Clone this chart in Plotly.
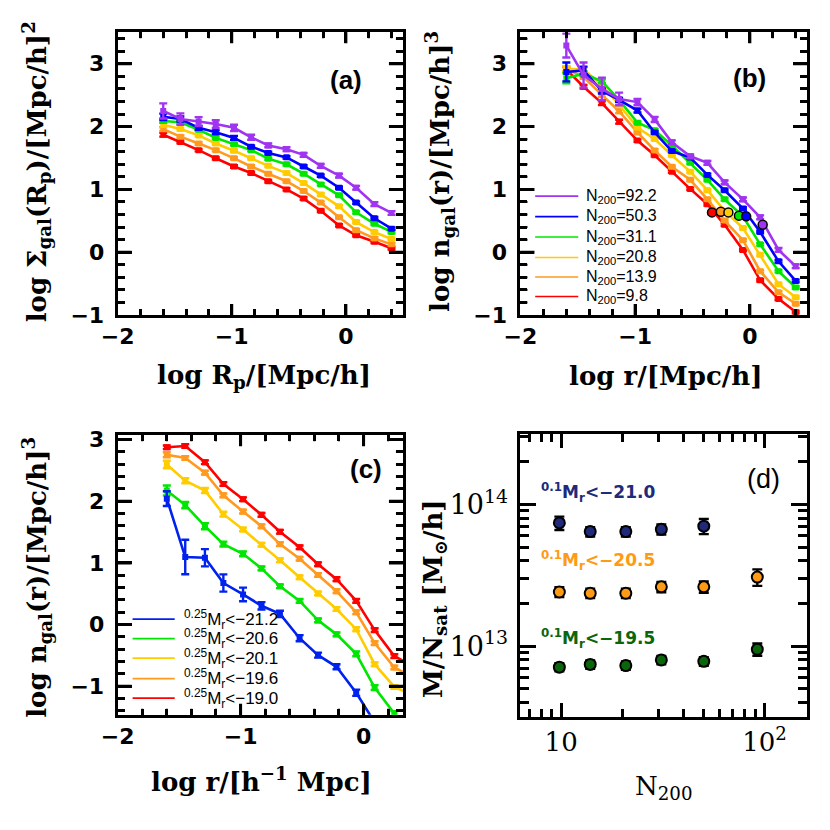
import plotly.graph_objects as go

W = H = 830

# radial bins shared by panels (a), (b), (c)  [log Mpc/h]
R_BINS = [-1.6, -1.45, -1.29, -1.14, -0.98, -0.83, -0.68, -0.52, -0.37, -0.22, -0.06, 0.09, 0.25, 0.4]

N200 = [9.8, 13.9, 20.8, 31.1, 50.3, 92.2]
COLORS_N = ["#ff0000", "#ff9a1f", "#ffcc00", "#00e600", "#0000ff", "#a034f0"]

# panel (a): projected profiles, one per richness bin (N200 order)
SIG_N9 = [1.87, 1.755, 1.625, 1.495, 1.365, 1.26, 1.13, 1.0, 0.854, 0.66, 0.427, 0.27, 0.167, 0.063]
SIG_N14 = [1.96, 1.84, 1.73, 1.625, 1.495, 1.365, 1.25, 1.13, 0.974, 0.79, 0.557, 0.35, 0.22, 0.125]
SIG_N21 = [2.03, 1.96, 1.86, 1.73, 1.615, 1.495, 1.375, 1.26, 1.10, 0.92, 0.73, 0.48, 0.32, 0.21]
SIG_N31 = [2.09, 2.07, 1.95, 1.82, 1.72, 1.625, 1.49, 1.40, 1.25, 1.08, 0.906, 0.635, 0.453, 0.323]
SIG_N50 = [2.156, 2.12, 1.98, 1.91, 1.82, 1.68, 1.58, 1.51, 1.365, 1.22, 1.026, 0.79, 0.54, 0.375]
SIG_N92 = [2.25, 2.12, 2.08, 2.04, 1.98, 1.83, 1.70, 1.64, 1.55, 1.375, 1.22, 1.026, 0.766, 0.625]
SIG_ERR_SMALL = [0.03, 0.02, 0.02, 0.02, 0.02, 0.02, 0.02, 0.02, 0.02, 0.02, 0.02, 0.02, 0.02, 0.02]
SIG_ERR_N50 = [0.05, 0.04, 0.03, 0.03, 0.03, 0.02, 0.02, 0.02, 0.02, 0.02, 0.02, 0.02, 0.02, 0.02]
SIG_ERR_N92 = [0.12, 0.09, 0.07, 0.06, 0.05, 0.04, 0.03, 0.03, 0.03, 0.03, 0.03, 0.03, 0.03, 0.03]

# panel (b): 3D profiles
DEN_N9 = [2.909, 2.634, 2.374, 2.078, 1.777, 1.543, 1.283, 1.008, 0.764, 0.436, 0.036, -0.447, -0.743, -0.951]
DEN_N14 = [2.92, 2.79, 2.504, 2.244, 1.906, 1.621, 1.361, 1.153, 0.842, 0.504, 0.192, -0.301, -0.639, -0.821]
DEN_N21 = [2.92, 2.909, 2.66, 2.348, 1.984, 1.803, 1.543, 1.283, 0.987, 0.66, 0.384, -0.042, -0.509, -0.717]
DEN_N31 = [2.77, 2.842, 2.722, 2.426, 2.062, 1.943, 1.699, 1.423, 1.153, 0.842, 0.571, 0.125, -0.301, -0.561]
DEN_N50 = [2.87, 2.894, 2.566, 2.426, 2.255, 1.906, 1.61, 1.506, 1.231, 0.987, 0.696, 0.322, -0.145, -0.457]
DEN_N92 = [3.29, 2.82, 2.60, 2.44, 2.39, 2.114, 1.75, 1.527, 1.423, 1.112, 0.842, 0.556, 0.036, -0.223]
DEN_ERR_SMALL = [0.04, 0.03, 0.03, 0.03, 0.02, 0.02, 0.02, 0.02, 0.02, 0.02, 0.02, 0.02, 0.02, 0.02]
DEN_ERR_N31 = [0.08, 0.04, 0.03, 0.03, 0.02, 0.02, 0.02, 0.02, 0.02, 0.02, 0.02, 0.02, 0.02, 0.02]
DEN_ERR_N50 = [0.15, 0.06, 0.04, 0.03, 0.03, 0.02, 0.02, 0.02, 0.02, 0.02, 0.02, 0.02, 0.02, 0.02]
DEN_ERR_N92 = [0.19, 0.2, 0.18, 0.1, 0.05, 0.04, 0.03, 0.03, 0.03, 0.03, 0.03, 0.03, 0.03, 0.03]
# characteristic radius markers
RC_X = [-0.33, -0.253, -0.187, -0.095, -0.032, 0.112]
RC_Y = [0.634, 0.644, 0.634, 0.582, 0.571, 0.436]

# panel (c): luminosity-threshold profiles
MAG_25 = ["−19.0", "−19.6", "−20.1", "−20.6", "−21.2"]
COLORS_M = ["#ff0000", "#ff9a1f", "#ffcc00", "#00e600", "#0022ee"]
LUM_19_0 = [2.874, 2.895, 2.632, 2.279, 2.032, 1.779, 1.505, 1.253, 0.979, 0.737, 0.384, -0.089, -0.511, -0.668]
LUM_19_6 = [2.753, 2.70, 2.463, 2.095, 1.832, 1.595, 1.305, 1.068, 0.805, 0.542, 0.20, -0.30, -0.695, -0.853]
LUM_20_1 = [2.595, 2.332, 2.174, 1.79, 1.542, 1.295, 1.042, 0.768, 0.505, 0.253, -0.074, -0.642, -1.011, -1.142]
LUM_20_6 = [2.174, 1.937, 1.595, 1.305, 1.147, 0.911, 0.621, 0.384, 0.068, -0.158, -0.474, -1.021, -1.442]
LUM_21_2 = [2.042, 1.095, 1.084, 0.674, 0.489, 0.305, 0.174, -0.221, -0.495, -0.684, -1.105, -1.584]
LUM_ERR_19_0 = [0.03, 0.03, 0.03, 0.03, 0.03, 0.03, 0.03, 0.03, 0.03, 0.03, 0.03, 0.03, 0.03, 0.03]
LUM_ERR_19_6 = [0.04, 0.03, 0.03, 0.03, 0.03, 0.03, 0.03, 0.03, 0.03, 0.03, 0.03, 0.03, 0.03, 0.03]
LUM_ERR_20_1 = [0.06, 0.04, 0.04, 0.04, 0.03, 0.03, 0.03, 0.03, 0.03, 0.03, 0.03, 0.03, 0.03, 0.03]
LUM_ERR_20_6 = [0.08, 0.05, 0.05, 0.04, 0.04, 0.03, 0.03, 0.03, 0.03, 0.03, 0.04, 0.04, 0.04]
LUM_ERR_21_2 = [0.12, 0.28, 0.14, 0.14, 0.11, 0.06, 0.05, 0.05, 0.04, 0.04, 0.05, 0.06]

# panel (d): mass per satellite
MAG_01 = ["−21.0", "−20.5", "−19.5"]
COLORS_D = ["#202a7a", "#ff9a14", "#0b660b"]
MN_21_0 = [7.41e13, 6.43e13, 6.43e13, 6.67e13, 7.03e13]
MN_20_5 = [2.41e13, 2.36e13, 2.36e13, 2.62e13, 2.62e13, 3.07e13]
MN_19_5 = [7.10e12, 7.42e12, 7.29e12, 7.98e12, 7.80e12, 9.49e12]
MN_ERR_21_0 = [0.8e13, 0.49e13, 0.49e13, 0.55e13, 0.86e13]
MN_ERR_20_5 = [0.19e13, 0.18e13, 0.18e13, 0.22e13, 0.24e13, 0.41e13]
MN_ERR_19_5 = [0.47e12, 0.5e12, 0.5e12, 0.55e12, 0.55e12, 0.95e12]

# tick positions and labels (kept inside each axis range)
LOGR_MAJOR = [-2, -1, 0]
LOGR_TEXT = ["−2", "−1", "0"]
LOGR_MINOR_AB = [-1.8, -1.6, -1.4, -1.2, -0.8, -0.6, -0.4, -0.2, 0.2, 0.4]
LOGR_MINOR_C = [-1.8, -1.6, -1.4, -1.2, -0.8, -0.6, -0.4, -0.2, 0.2]
DENS_MAJOR = [-1, 0, 1, 2, 3]
DENS_TEXT = ["−1", "0", "1", "2", "3"]
DENS_MINOR_AB = [-0.8, -0.6, -0.4, -0.2, 0.2, 0.4, 0.6, 0.8, 1.2, 1.4, 1.6, 1.8,
                 2.2, 2.4, 2.6, 2.8, 3.2, 3.4]
DENS_MINOR_C = [-1.4, -1.2, -0.8, -0.6, -0.4, -0.2, 0.2, 0.4, 0.6, 0.8, 1.2, 1.4, 1.6, 1.8,
                2.2, 2.4, 2.6, 2.8]


def px(x):
    return x / W


def py(y):
    return 1 - y / H


SANS = "DejaVu Sans"
SERIF = "DejaVu Serif"
LSANS = "Liberation Sans"

fig = go.Figure()


def profile(x, y, err, color, xa, ya):
    fig.add_trace(go.Scatter(
        x=x[:len(y)], y=y, mode="lines+markers", xaxis=xa, yaxis=ya, showlegend=False,
        line=dict(color=color, width=2.6),
        marker=dict(symbol="square", size=6, color=color),
        error_y=dict(type="data", array=err, color=color, thickness=2.4, width=4),
    ))


for vals, err, col in zip([SIG_N9, SIG_N14, SIG_N21, SIG_N31, SIG_N50, SIG_N92],
                          [SIG_ERR_SMALL] * 4 + [SIG_ERR_N50, SIG_ERR_N92], COLORS_N):
    profile(R_BINS, vals, err, col, "x", "y")

for vals, err, col in zip([DEN_N9, DEN_N14, DEN_N21, DEN_N31, DEN_N50, DEN_N92],
                          [DEN_ERR_SMALL] * 3 + [DEN_ERR_N31, DEN_ERR_N50, DEN_ERR_N92], COLORS_N):
    profile(R_BINS, vals, err, col, "x2", "y2")

fig.add_trace(go.Scatter(
    x=RC_X, y=RC_Y, mode="markers", xaxis="x2", yaxis="y2", showlegend=False,
    marker=dict(size=9, color=COLORS_N, line=dict(color="black", width=1.5)),
))

for vals, err, col in zip([LUM_19_0, LUM_19_6, LUM_20_1, LUM_20_6, LUM_21_2],
                          [LUM_ERR_19_0, LUM_ERR_19_6, LUM_ERR_20_1, LUM_ERR_20_6, LUM_ERR_21_2], COLORS_M):
    profile(R_BINS, vals, err, col, "x3", "y3")

for vals, err, col in zip([MN_21_0, MN_20_5, MN_19_5], [MN_ERR_21_0, MN_ERR_20_5, MN_ERR_19_5], COLORS_D):
    fig.add_trace(go.Scatter(
        x=N200[:len(vals)], y=vals, mode="markers", xaxis="x4", yaxis="y4", showlegend=False,
        marker=dict(size=11, color=col, line=dict(color="black", width=2)),
        error_y=dict(type="data", array=err, color="black", thickness=2.4, width=5),
    ))

tick_bold = dict(family=SANS, size=22, color="black", weight="bold")
XA = [px(102.7), px(394)]
XB = [px(514), px(806.7)]
YTOP = [py(315), py(25)]
YC = [py(725), py(438.3)]
YD = [py(727.3), py(436.7)]


def frame(**kw):
    base = dict(ticks="inside", tickwidth=3, tickcolor="black",
                showline=True, linewidth=3, linecolor="black", mirror="allticks",
                showgrid=False, zeroline=False)
    base.update(kw)
    return base


def lin_axis(domain, rng, anchor, major, labels, minor, ticklen, minorlen, standoff=0):
    ax = frame(domain=domain, type="linear", range=rng, anchor=anchor,
               tickvals=major, ticktext=labels, ticklen=ticklen, tickfont=tick_bold,
               minor=dict(tickvals=minor, ticks="inside", ticklen=minorlen, tickcolor="black"))
    if standoff:
        ax["ticklabelstandoff"] = standoff
    return ax


fig.update_layout(
    width=W, height=H, margin=dict(l=0, r=0, t=0, b=0),
    paper_bgcolor="white", plot_bgcolor="white",
    xaxis=lin_axis(XA, [-2, 0.5], "y", LOGR_MAJOR, LOGR_TEXT, LOGR_MINOR_AB, 11, 6),
    yaxis=lin_axis(YTOP, [-1, 3.5], "x", DENS_MAJOR, DENS_TEXT, DENS_MINOR_AB, 14, 7, 6),
    xaxis2=lin_axis(XB, [-2, 0.5], "y2", LOGR_MAJOR, LOGR_TEXT, LOGR_MINOR_AB, 11, 6),
    yaxis2=lin_axis(YTOP, [-1, 3.5], "x2", DENS_MAJOR, DENS_TEXT, DENS_MINOR_AB, 14, 7, 6),
    xaxis3=lin_axis(XA, [-2, 0.32], "y3", LOGR_MAJOR, LOGR_TEXT, LOGR_MINOR_C, 11, 6),
    yaxis3=lin_axis(YC, [-1.46, 3.07], "x3", DENS_MAJOR, DENS_TEXT, DENS_MINOR_C, 14, 7, 6),
    xaxis4=frame(
        domain=XB, type="log", range=[0.8, 2.21], anchor="y4",
        tickvals=[10, 100], ticktext=["10", "10<sup>2</sup>"], ticklen=14,
        tickfont=dict(family=SERIF, size=26, color="black"),
        minor=dict(tickvals=[7, 8, 9, 20, 30, 40, 50, 60, 70, 80, 90], ticks="inside", ticklen=8,
                   tickcolor="black"),
    ),
    yaxis4=frame(
        domain=YD, type="log", range=[12.5, 14.5], anchor="x4",
        tickvals=[1e13, 1e14], ticktext=["10<sup>13</sup>", "10<sup>14</sup>"], ticklen=16,
        tickfont=dict(family=SERIF, size=27, color="black"), ticklabelstandoff=4,
        minor=dict(tickvals=[4e12, 5e12, 6e12, 7e12, 8e12, 9e12, 2e13, 3e13, 4e13, 5e13,
                             6e13, 7e13, 8e13, 9e13, 2e14, 3e14],
                   ticks="inside", ticklen=9, tickcolor="black"),
    ),
)

shapes = []


def tick_marks(xa, ya, xvals, yvals, xlen, ylen, width):
    # inward tick marks on all four sides, placed through each axis' own scale
    for v in xvals:
        for anchor, sign in ((0, 1), (1, -1)):
            shapes.append(dict(type="line", xref=xa, yref=ya + " domain", x0=v, x1=v,
                               ysizemode="pixel", yanchor=anchor, y0=0, y1=sign * xlen,
                               line=dict(color="black", width=width), layer="above"))
    for v in yvals:
        for anchor, sign in ((0, 1), (1, -1)):
            shapes.append(dict(type="line", xref=xa + " domain", yref=ya, y0=v, y1=v,
                               xsizemode="pixel", xanchor=anchor, x0=0, x1=sign * ylen,
                               line=dict(color="black", width=width), layer="above"))


for xa, ya, xminor, yminor in (("x", "y", LOGR_MINOR_AB, DENS_MINOR_AB),
                               ("x2", "y2", LOGR_MINOR_AB, DENS_MINOR_AB),
                               ("x3", "y3", LOGR_MINOR_C, DENS_MINOR_C)):
    tick_marks(xa, ya, LOGR_MAJOR[1:], DENS_MAJOR[1:] if ya != "y3" else DENS_MAJOR, 11, 14, 3)
    tick_marks(xa, ya, xminor, yminor, 6, 7, 2)

title_font = dict(family=SERIF, size=26, color="black", weight="bold")
ann = []


def text(x, y, s, font, angle=0, xanchor="center"):
    ann.append(dict(x=px(x), y=py(y), xref="paper", yref="paper", text=s, showarrow=False,
                    font=font, textangle=angle, xanchor=xanchor, yanchor="middle"))


# axis titles
text(20, 168, "log Σ<sub>gal</sub>(R<sub>p</sub>)/[Mpc/h]<sup>2</sup>", title_font, -90)
text(252, 378, "log R<sub>p</sub>/[Mpc/h]", title_font)
text(432, 168, "log n<sub>gal</sub>(r)/[Mpc/h]<sup>3</sup>", title_font, -90)
text(662, 378, "log r/[Mpc/h]", title_font)
text(20, 584, "log n<sub>gal</sub>(r)/[Mpc/h]<sup>3</sup>", title_font, -90)
text(250, 792, "log r/[h<sup>−1</sup> Mpc]", title_font)
text(426, 606, "M/N<sub>sat</sub> [M<sub>⊙</sub>/h]", title_font, -90)
text(660, 800, "N<sub>200</sub>", dict(family=SERIF, size=26, color="black"))

# panel tags
tag_font = dict(family=LSANS, size=26, color="black", weight="bold")
text(336, 74, "(a)", tag_font)
text(748, 72, "(b)", tag_font)
text(356, 473, "(c)", tag_font)
text(762, 483, "(d)", dict(family=LSANS, size=27, color="black"))

# legend for (b)
leg_font = dict(family=LSANS, size=16, color="black")
rows_b = [193, 214, 235, 256, 276, 296]
for i, (n, col) in enumerate(zip(reversed(N200), reversed(COLORS_N))):
    shapes.append(dict(type="line", xref="paper", yref="paper", x0=px(529), x1=px(573),
                       y0=py(rows_b[i]), y1=py(rows_b[i]), line=dict(color=col, width=1.6)))
    text(579, rows_b[i], f"N<sub>200</sub>={n}", leg_font, xanchor="left")

# legend for (c)
rows_c = [627, 647, 667, 688, 708]
for i, (m, col) in enumerate(zip(reversed(MAG_25), reversed(COLORS_M))):
    shapes.append(dict(type="line", xref="paper", yref="paper", x0=px(118), x1=px(161),
                       y0=py(rows_c[i]), y1=py(rows_c[i]), line=dict(color=col, width=1.6)))
    text(168, rows_c[i], f"<sup>0.25</sup>M<sub>r</sub>&lt;{m}", dict(family=LSANS, size=17, color="black"),
         xanchor="left")

# labels in (d)
rows_d = [497, 567, 647]
for m, col, yy in zip(MAG_01, COLORS_D, rows_d):
    text(533, yy, f"<sup>0.1</sup>M<sub>r</sub>&lt;{m}", dict(family=SANS, size=17, color=col, weight="bold"),
         xanchor="left")

fig.update_layout(annotations=ann, shapes=shapes)
fig.write_html("out.html", config=dict(displayModeBar=False),
               post_script="document.body.style.margin='0px';")
